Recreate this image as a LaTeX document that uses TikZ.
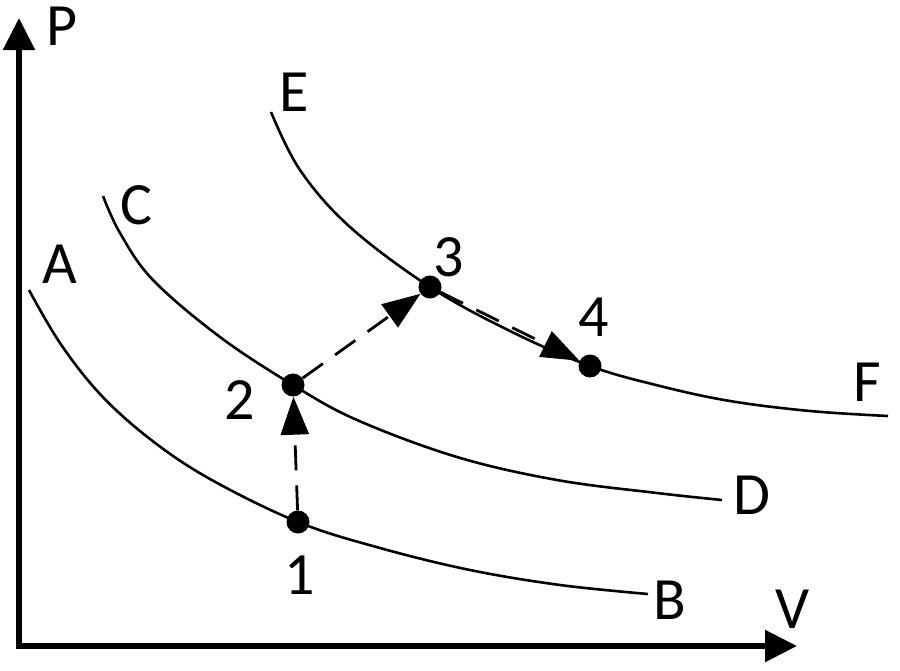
\documentclass[tikz,border=0pt]{standalone}
\usepackage{fontspec}
\setmainfont{Carlito}
\usetikzlibrary{arrows.meta}
\begin{document}
\begin{tikzpicture}[x=1pt,y=-1pt,
  lbl/.style={font=\fontsize{60}{60}\selectfont, inner sep=0pt},
  curve/.style={line width=2.6pt, smooth, tension=0.6},
  axis/.style={line width=5.5pt, -{Triangle[length=32pt,width=31pt]}},
  dot/.style={circle, fill=black, inner sep=0pt, minimum size=23pt},
  proc/.style={line width=2.8pt, dash pattern=on 25pt off 15pt, -{Triangle[length=38pt,width=28pt]}}]
\useasboundingbox (0,0) rectangle (900,670);
% axes
\coordinate (O) at (19,648.5);
\coordinate (Ptip) at (19,18);
\coordinate (Vtip) at (797,646);
\coordinate (Ox) at (16.25,646);
\draw[axis] (O) -- (Ptip);
\draw[axis] (Ox) -- (Vtip);
\node[lbl] (P) at (62,26) {P};
\node[lbl] (V) at (793,609) {V};
% isotherms
\draw[curve] plot coordinates {(29,290) (60,343) (100,394) (150,439) (210,479) (298,522) (380,548) (470,570) (560,585) (648,594)};
\draw[curve] plot coordinates {(103,196) (120,233) (153,280) (220,337) (293,385) (357,420) (457,457) (557,480) (657,493) (722,500)};
\draw[curve] plot coordinates {(271,112) (300,170) (350,227) (430,287) (510,331) (590,366) (660,386) (730,401) (810,411) (888,416)};
% curve labels
\node[lbl] (A) at (60,264) {A};
\node[lbl] (B) at (670,600) {B};
\node[lbl] (C) at (136,205) {C};
\node[lbl] (D) at (752,495) {D};
\node[lbl] (E) at (294,92) {E};
\node[lbl] (F) at (867,382) {F};
% states
\node[dot] (n1) at (298,522) {};
\node[dot] (n2) at (293,385) {};
\node[dot] (n3) at (430,287) {};
\node[dot] (n4) at (590,366) {};
\node[lbl] (l1) at (300,575) {1};
\node[lbl] (l2) at (240,400) {2};
\node[lbl] (l3) at (449,257) {3};
\node[lbl] (l4) at (594,317) {4};
% processes
\draw[proc] (n1) -- (n2);
\draw[proc] (n2) -- (n3);
\draw[proc] (n3) -- (n4);
\end{tikzpicture}
\end{document}
